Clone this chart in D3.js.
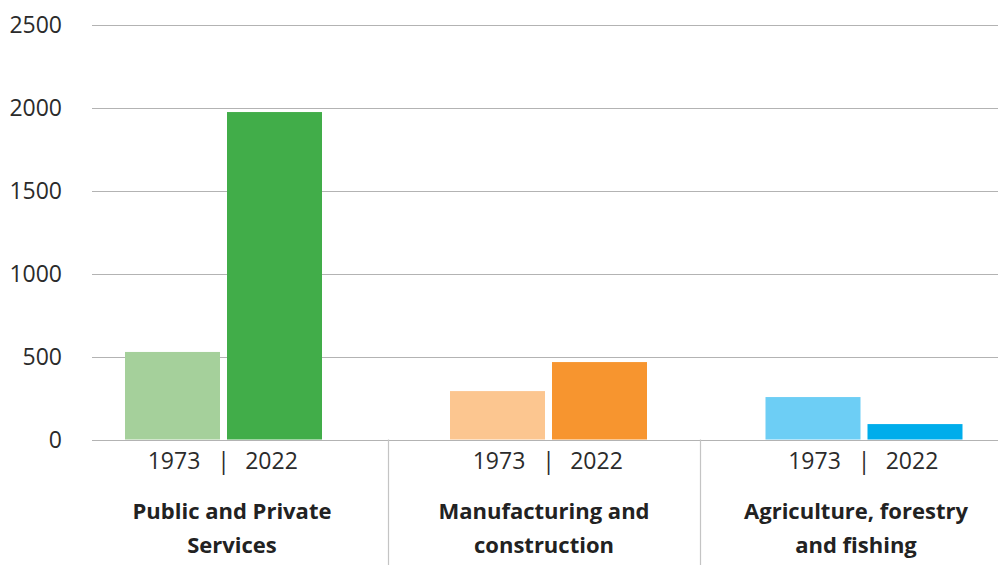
<!DOCTYPE html>
<html>
<head>
<meta charset="utf-8">
<script src="https://cdn.jsdelivr.net/npm/d3@7"></script>
<style>
  html, body { margin: 0; padding: 0; background: #fff; }
  svg { display: block; font-family: "Open Sans", "Noto Sans", sans-serif; }
</style>
</head>
<body>
<svg id="chart" width="998" height="565"></svg>
<script>
// Employment by sector (thousands), 1973 vs 2022
const sectors = [
  ["Public and Private", "Services"],
  ["Manufacturing and", "construction"],
  ["Agriculture, forestry", "and fishing"]
];
const years = ["1973", "2022"];
const values1973 = [528, 292, 256];
const values2022 = [1975, 467, 93];
const yTicks = [0, 500, 1000, 1500, 2000, 2500];
const colors1973 = ["#a5d09b", "#fcc690", "#6dcef5"];
const colors2022 = ["#41ad49", "#f7952f", "#00adeb"];

const svg = d3.select("#chart");
const W = 998, H = 565;
const plotLeft = 92, plotRight = 998, plotTop = 25, plotBottom = 439.5;

const sectorKeys = sectors.map(d => d.join(" "));

const y = d3.scaleLinear().domain([0, 2500]).range([plotBottom, plotTop]);

// group areas (separators + category labels)
const xArea = d3.scaleBand().domain(sectorKeys).range([76, 1012]);
// centre of each pair of bars
const xPair = d3.scaleOrdinal().domain(sectorKeys).range([223.5, 548.5, 864]);
// bar within the pair
const xYear = d3.scaleBand().domain(years).range([-98.5, 98.5]).paddingInner(7 / 102);

// gridlines
const grid = svg.append("g");
grid.selectAll("line").data(yTicks).join("line")
  .attr("x1", plotLeft).attr("x2", plotRight)
  .attr("y1", d => Math.round(y(d)) + 0.5).attr("y2", d => Math.round(y(d)) + 0.5)
  .attr("stroke", "#b3b3b3").attr("stroke-width", 1.2);

// y tick labels
svg.append("g").selectAll("text").data(yTicks).join("text")
  .attr("x", 62).attr("y", d => y(d))
  .attr("dy", "0.35em")
  .attr("text-anchor", "end")
  .attr("font-size", 23)
  .attr("fill", "#2b2b2b")
  .text(d => d);

// bars
const rows = [];
sectorKeys.forEach((s, i) => {
  rows.push({ sector: s, year: "1973", value: values1973[i], color: colors1973[i] });
  rows.push({ sector: s, year: "2022", value: values2022[i], color: colors2022[i] });
});
svg.append("g").selectAll("rect").data(rows).join("rect")
  .attr("x", d => xPair(d.sector) + xYear(d.year))
  .attr("width", xYear.bandwidth())
  .attr("y", d => y(d.value))
  .attr("height", d => y(0) - y(d.value))
  .attr("fill", d => d.color);

// separators between sector groups
svg.append("g").selectAll("line").data(sectorKeys.slice(1)).join("line")
  .attr("x1", d => Math.round(xArea(d)) + 0.5).attr("x2", d => Math.round(xArea(d)) + 0.5)
  .attr("y1", plotBottom).attr("y2", H)
  .attr("stroke", "#c4c4c4").attr("stroke-width", 1.2);

// year labels under each pair
const yearLabels = svg.append("g").attr("font-size", 23).attr("fill", "#2b2b2b");
sectorKeys.forEach(s => {
  const c = xPair(s);
  years.forEach(yr => {
    yearLabels.append("text")
      .attr("x", c + xYear(yr) + xYear.bandwidth() / 2 + (yr === "1973" ? 1.5 : -3))
      .attr("y", 469)
      .attr("text-anchor", "middle")
      .text(yr);
  });
  yearLabels.append("text")
    .attr("x", c).attr("y", 469)
    .attr("text-anchor", "middle")
    .text("|");
});

// sector category labels
svg.append("g").selectAll("text").data(sectors).join("text")
  .attr("x", (d, i) => xArea.bandwidth() / 2 + xArea(sectorKeys[i]))
  .attr("text-anchor", "middle")
  .attr("font-size", 22)
  .attr("font-weight", "bold")
  .attr("fill", "#222")
  .each(function (d) {
    d3.select(this).selectAll("tspan").data(d).join("tspan")
      .attr("x", d3.select(this).attr("x"))
      .attr("y", (t, j) => 519 + j * 34)
      .text(t => t);
  });
</script>
</body>
</html>
